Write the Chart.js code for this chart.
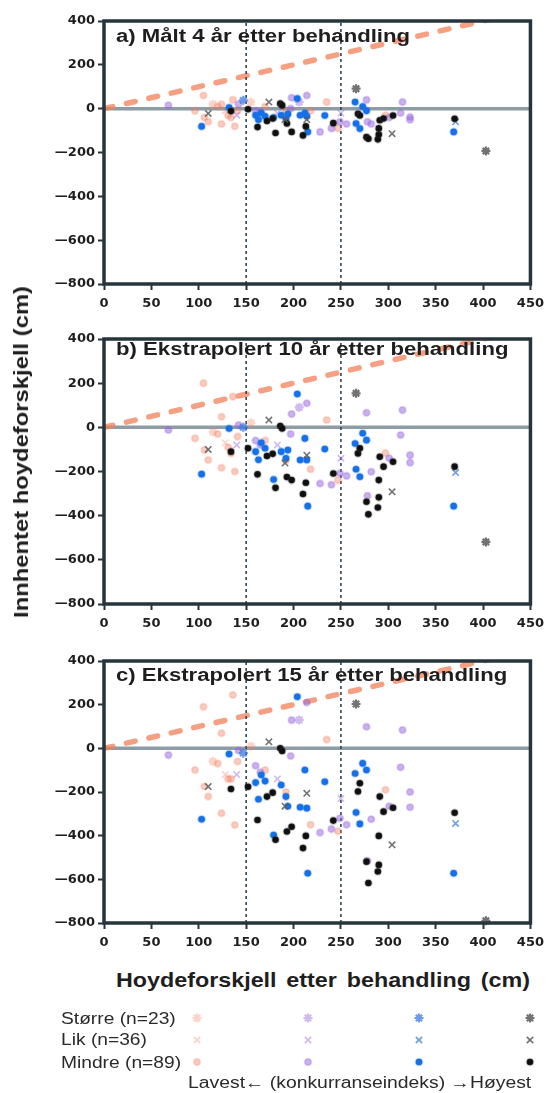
<!DOCTYPE html>
<html><head><meta charset="utf-8">
<script src="https://cdn.jsdelivr.net/npm/chart.js@4.4.1/dist/chart.umd.min.js"></script>
<style>
html,body{margin:0;padding:0;background:#fff;}
body{width:550px;height:1093px;position:relative;overflow:hidden;font-family:"Liberation Sans",Arial,sans-serif;}
canvas{position:absolute;left:0;}
.t{position:absolute;white-space:nowrap;color:#1e1e1e;}
.pt{font-weight:bold;font-size:18px;line-height:20px;transform:scaleX(1.23);transform-origin:0 50%;}
.leg{font-size:16px;line-height:18px;color:#2a2a2a;transform:scaleX(1.2);transform-origin:0 50%;}
</style></head><body>
<canvas id="ca" width="550" height="320" style="top:0"></canvas>
<canvas id="cb" width="550" height="320" style="top:320px"></canvas>
<canvas id="cc" width="550" height="320" style="top:640px"></canvas>
<canvas id="cl" width="550" height="75" style="top:1000px"></canvas>

<div class="t pt" style="left:116px;top:26px">a) Målt 4 år etter behandling</div>
<div class="t pt" style="left:116px;top:339px">b) Ekstrapolert 10 år etter behandling</div>
<div class="t pt" style="left:116px;top:665px">c) Ekstrapolert 15 år etter behandling</div>
<div class="t" style="left:-149px;top:441px;width:340px;height:22px;line-height:22px;text-align:center;font-weight:bold;font-size:20px;transform:rotate(-90deg) scaleX(1.19);">Innhentet hoydeforskjell (cm)</div>
<div class="t" style="left:48px;top:968px;width:550px;text-align:center;font-weight:bold;font-size:21px;line-height:24px;word-spacing:3px;transform:scaleX(1.11);">Hoydeforskjell etter behandling (cm)</div>
<div class="t leg" style="left:61px;top:1010px">Større (n=23)</div>
<div class="t leg" style="left:61px;top:1031px">Lik (n=36)</div>
<div class="t leg" style="left:61px;top:1054px">Mindre (n=89)</div>
<div class="t" style="left:188px;top:1074px;font-size:16px;line-height:18px;color:#2a2a2a;transform:scaleX(1.21);transform-origin:0 50%;">Lavest← (konkurranseindeks) →Høyest</div>

<script>
// ---------- DATA ----------
const heightDiff = [134,152,186,188,162,172,178,181,193,198,210,213,242,268,270,277,279,289,290,290,291,295,305,370,266,403,304,174,214,110,191,
  103,132,204,160,163,166,179,187,192,194,212,214,207,215,233,265,273,277,266,270,369,371,147,170,
  68,214,277,315,228,249,282,301,313,323,323,198,197,160,165,278,240,250,256,142,140,206,183,
  96,106,110,124,134,136,105,124,141,138,131,120,235,297,170,192,247,115,128,155,218];
const compLevel = [4,4,4,4,4,4,4,4,4,4,4,4,4,4,4,4,4,4,4,4,4,4,4,4,4,4,4,4,4,4,4,
  3,3,3,3,3,3,3,3,3,3,3,3,3,3,3,3,3,3,3,3,3,3,3,3,
  2,2,2,2,2,2,2,2,2,2,2,2,2,2,2,2,2,2,2,2,2,2,2,
  1,1,1,1,1,1,1,1,1,1,1,1,1,1,1,1,1,1,1,1,1];
const sizeGroup = ['M','M','M','M','M','M','M','M','M','M','M','M','M','M','M','M','M','M','M','M','M','M','M','M','S','S','L','L','L','L','L',
  'M','M','M','M','M','M','M','M','M','M','M','M','M','M','M','M','M','M','M','M','M','L','S','M',
  'M','M','M','M','M','M','M','M','M','M','M','M','M','M','M','M','M','L','M','M','L','S','L',
  'M','M','M','M','M','M','M','M','M','M','M','M','M','M','M','M','M','S','L','S','M'];
const gainMeasured4 = [-11,-3,23,15,-84,-56,-45,-111,-68,-106,-122,-81,-66,-23,-31,-130,-137,-140,-118,-90,-53,-45,-31,-46,91,-193,-114,30,-50,-22,-50,
  -81,5,46,-30,-50,-20,-40,-30,-45,-25,-20,-35,-30,-106,-31,30,10,-10,-68,-91,-106,-60,38,-35,
  15,60,40,30,-106,-60,-70,-40,-20,-38,-50,50,0,-10,-15,-60,-90,-20,-70,20,-30,30,-20,
  -10,-40,-60,-70,-40,40,60,20,-10,-80,-30,10,30,-30,10,-10,-90,20,-10,30,-10];
const gainExtrap10 = [-110,-95,6,-5,-213,-130,-120,-274,-225,-239,-302,-251,-209,-118,-95,-337,-394,-363,-317,-239,-133,-178,-156,-178,154,-519,-292,33,-126,-100,-162,
  -212,-5,151,-110,-147,-70,-236,-110,-140,-103,-50,-148,-148,-357,-98,-73,-27,-58,-190,-224,-357,-205,0,-95,
  -12,109,66,78,-254,-208,-201,-140,-35,-126,-160,60,-30,-60,-80,-310,-260,-140,-220,10,-80,90,-80,
  -50,-103,-148,-183,-118,139,200,48,-42,-200,-90,-30,33,-117,-60,-150,-240,-20,-70,20,-190];
const gainExtrap15 = [-186,-176,0,-12,-328,-221,-203,-419,-381,-359,-457,-401,-331,-198,-160,-519,-617,-564,-534,-401,-221,-290,-272,-295,203,-790,-442,30,-206,-175,-265,
  -325,-26,236,-157,-233,-122,-397,-168,-221,-265,-99,-274,-270,-572,-153,-115,-69,-99,-294,-346,-572,-344,-22,-150,
  -31,210,99,84,-386,-320,-325,-265,-87,-200,-270,129,-35,-80,-110,-515,-370,-230,-350,-10,-120,130,-140,
  -99,-175,-221,-297,-140,244,190,69,-60,-351,-140,-70,40,-190,-100,-200,-380,-60,-120,10,-350];
const xTicks = [0,50,100,150,200,250,300,350,400,450];
const yTicks = [-800,-600,-400,-200,0,200,400];
const guideX = [150,250];
const equalLine = [0,450];
const legendLevels = [1,2,3,4];
const legendRows = ['S','L','M'];

// ---------- STYLE ----------
const TICKFONT = '"DejaVu Sans", "Liberation Sans", sans-serif';
const INK = '#26343c';
const levelFill = {1:'rgba(242,120,88,0.38)',2:'rgba(150,100,222,0.5)',3:'rgba(22,112,232,1)',4:'rgba(15,15,15,1)'};
const levelHalo = {1:'rgba(242,120,88,0.2)',2:'rgba(150,100,222,0.25)',3:'rgba(22,112,232,0.3)',4:'rgba(60,60,60,0.25)'};
const levelLine = {1:'rgba(242,130,100,0.35)',2:'rgba(160,120,225,0.5)',3:'rgba(60,120,225,0.75)',4:'rgba(90,90,90,0.85)'};
function markerStyle(lvl, sg){
  if (sg === 'M') return {pointStyle:'circle', pointRadius:3.3, pointBackgroundColor:levelFill[lvl], pointBorderColor:levelHalo[lvl], pointBorderWidth:2};
  if (sg === 'L') return {pointStyle:'crossRot', pointRadius:4.5, pointBorderColor:levelLine[lvl], pointBackgroundColor:levelLine[lvl], pointBorderWidth:1.6};
  return {pointStyle:'star', pointRadius:4.5, pointBorderColor:levelLine[lvl], pointBackgroundColor:levelLine[lvl], pointBorderWidth:2.2};
}

const framePlugin = {id:'frame', afterDatasetsDraw(chart){
  const {ctx, chartArea:a} = chart;
  if (chart.options.plugins.frame === false) return;
  ctx.save(); ctx.strokeStyle = INK; ctx.lineWidth = 3.5;
  ctx.strokeRect(a.left, a.top, a.right-a.left, a.bottom-a.top);
  ctx.restore();
}};

function panel(id, gains, padTop, axisH){
  const ds = [];
  ds.push({type:'line', data:[{x:0,y:0},{x:450,y:0}], borderColor:'#8e9da5', borderWidth:3.5, pointRadius:0, order:12, clip:0});
  ds.push({type:'line', data:equalLine.map(v=>({x:v,y:v})), borderColor:'rgba(243,128,90,0.75)', borderWidth:5.5, borderDash:[9,14], borderCapStyle:'round', pointRadius:0, order:11, clip:0});
  guideX.forEach(g => ds.push({type:'line', data:[{x:g,y:-800},{x:g,y:400}], borderColor:'#2f4657', borderWidth:1.6, borderDash:[3,3], pointRadius:0, order:10, clip:0}));
  for (const lvl of [1,2,3,4]) for (const sg of ['S','L','M']) {
    const pts = [];
    heightDiff.forEach((x,i)=>{ if (compLevel[i]===lvl && sizeGroup[i]===sg) pts.push({x:x, y:gains[i]}); });
    if (!pts.length) continue;
    ds.push(Object.assign({type:'scatter', data:pts, order:5-lvl, clip:6}, markerStyle(lvl,sg)));
  }
  new Chart(document.getElementById(id), {
    data:{datasets:ds},
    options:{
      responsive:false, animation:false, events:[],
      layout:{padding:{left:0,right:13,top:padTop,bottom:0}},
      plugins:{legend:{display:false}, tooltip:{enabled:false}},
      scales:{
        x:{type:'linear', min:0, max:450,
          afterBuildTicks:s=>{s.ticks = xTicks.map(v=>({value:v}));},
          afterFit:s=>{s.height = axisH;},
          grid:{drawOnChartArea:false, drawTicks:true, tickLength:6, tickWidth:2, tickColor:INK},
          border:{display:false},
          ticks:{autoSkip:false, maxRotation:0, padding:6, color:'#1e1e1e', font:{family:TICKFONT, size:13, weight:'bold'}}},
        y:{type:'linear', min:-800, max:400,
          afterBuildTicks:s=>{s.ticks = yTicks.map(v=>({value:v}));},
          afterFit:s=>{s.width = 104;},
          grid:{drawOnChartArea:false, drawTicks:true, tickLength:6, tickWidth:2, tickColor:INK},
          border:{display:false},
          ticks:{padding:3, color:'#1e1e1e', font:{family:TICKFONT, size:13, weight:'bold'}, callback:v=>String(v).replace('-','\u2014')}}
      }
    },
    plugins:[framePlugin]
  });
}
panel('ca', gainMeasured4, 21, 36);
panel('cb', gainExtrap10, 19, 36);
panel('cc', gainExtrap15, 21, 37);

// legend markers
const legDs = [];
legendRows.forEach((sg, r) => legendLevels.forEach(lvl => {
  legDs.push(Object.assign({type:'scatter', data:[{x:lvl, y:r+1}], clip:false}, markerStyle(lvl, sg)));
}));
new Chart(document.getElementById('cl'), {
  data:{datasets:legDs},
  options:{responsive:false, animation:false, events:[],
    layout:{padding:{left:197, right:20, top:18, bottom:13}},
    plugins:{legend:{display:false}, tooltip:{enabled:false}, frame:false},
    scales:{x:{type:'linear', min:1, max:4, display:false}, y:{type:'linear', min:1, max:3, reverse:true, display:false}}
  },
  plugins:[framePlugin]
});
</script>
</body></html>
